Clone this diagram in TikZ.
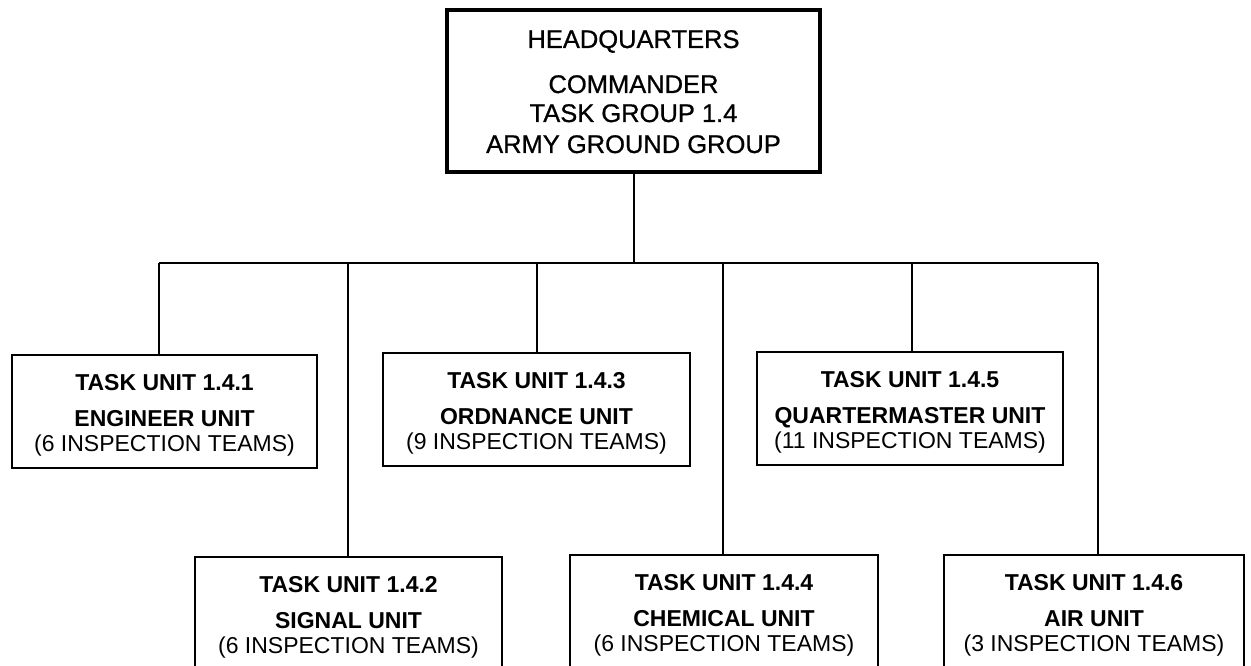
\documentclass[tikz,border=0pt]{standalone}
\usepackage{fontspec}
\setmainfont{Liberation Sans}
\newfontfamily\hqfont[FakeBold=0.8]{Liberation Sans}
\tikzset{
  ubox/.style={draw, line width=2.5pt, rectangle, minimum height=113pt, inner sep=0pt},
  hqbox/.style={draw, line width=4.5pt, rectangle, inner sep=0pt, minimum width=373pt, minimum height=162pt},
  conn/.style={line width=2pt},
  ltxt/.style={anchor=base, inner sep=0pt, font=\fontsize{23}{27}\selectfont},
  ltxtb/.style={ltxt, font=\fontsize{23}{27}\selectfont\bfseries},
  htxt/.style={anchor=base, inner sep=0pt, font=\hqfont\fontsize{25.5}{30}\selectfont}
}
\newcommand\unitbox[8]{%
  \node[ubox, minimum width=#4] (#1) at (#2,{#3+56.5}) {};
  \node[ltxtb] (#1-l1) at (#2,{#3+35}) {#6};
  \node[ltxtb] (#1-l2) at (#2,{#3+71}) {#7};
  \node[ltxt] (#1-l3) at (#2,{#3+96}) {#8};
  \coordinate (#1-top) at (#5,263);
  \draw[conn] (#1-top) -- (#1-top |- #1.north);
}
\begin{document}
\begin{tikzpicture}[x=1pt,y=-1pt]
\clip (0,0) rectangle (1251,666);
\fill[white] (0,0) rectangle (1251,666);
% headquarters
\node[hqbox] (hq) at (633.5,91) {};
\node[htxt] (hq-l1) at (633.5,48) {HEADQUARTERS};
\node[htxt] (hq-l2) at (633.5,93) {COMMANDER};
\node[htxt] (hq-l3) at (633.5,122) {TASK GROUP 1.4};
\node[htxt] (hq-l4) at (633.5,153) {ARMY GROUND GROUP};
% units
\unitbox{u1}{164.5}{355}{305pt}{159}{TASK UNIT 1.4.1}{ENGINEER UNIT}{(6 INSPECTION TEAMS)}
\unitbox{u2}{348.5}{557}{307pt}{348}{TASK UNIT 1.4.2}{SIGNAL UNIT}{(6 INSPECTION TEAMS)}
\unitbox{u3}{536.5}{353}{307pt}{537}{TASK UNIT 1.4.3}{ORDNANCE UNIT}{(9 INSPECTION TEAMS)}
\unitbox{u4}{724}{555}{308pt}{723}{TASK UNIT 1.4.4}{CHEMICAL UNIT}{(6 INSPECTION TEAMS)}
\unitbox{u5}{910}{352}{306pt}{912}{TASK UNIT 1.4.5}{QUARTERMASTER UNIT}{(11 INSPECTION TEAMS)}
\unitbox{u6}{1094}{555}{300pt}{1098}{TASK UNIT 1.4.6}{AIR UNIT}{(3 INSPECTION TEAMS)}
% bus
\draw[conn] (u1-top) -- (u6-top);
\draw[conn] (hq.south) -- (hq.south |- u1-top);
\end{tikzpicture}
\end{document}
